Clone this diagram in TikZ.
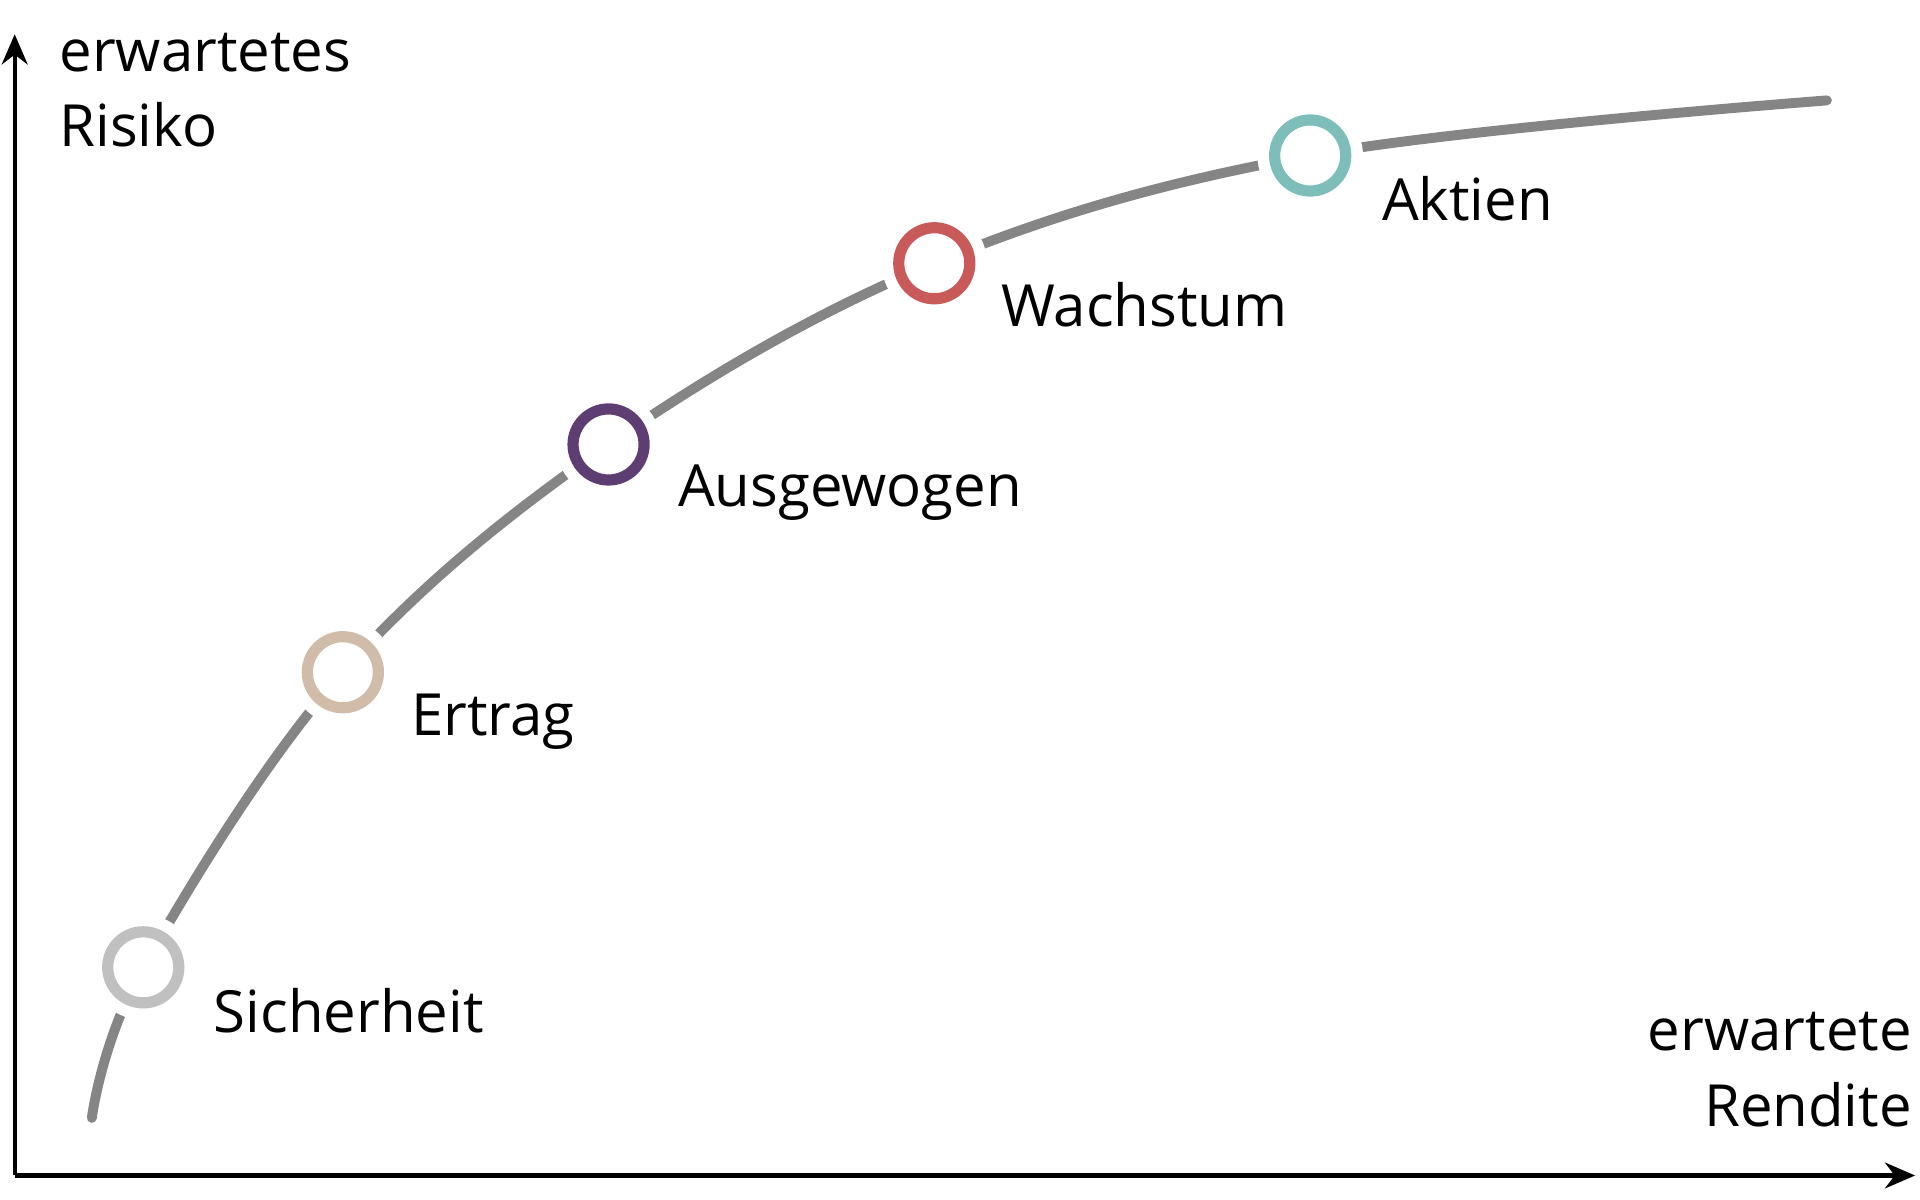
\documentclass[tikz,border=0pt]{standalone}
\usepackage{fontspec}
\setmainfont{Open Sans}
\usetikzlibrary{arrows.meta}
\definecolor{curve}{HTML}{858585}
\definecolor{cS}{HTML}{C0C0C0}
\definecolor{cE}{HTML}{D0BCA8}
\definecolor{cA}{HTML}{5E3D73}
\definecolor{cW}{HTML}{C85A5A}
\definecolor{cK}{HTML}{7DBDBA}
\tikzset{
  lbl/.style={anchor=base west, inner sep=0pt, font=\fontsize{13.5}{17.6}\selectfont},
  pt/.style={circle, minimum size=0.58cm, inner sep=0pt, draw=#1, line width=2.6pt, fill=white,
    preaction={draw=white, line width=8pt}},
  axis/.style={line width=1pt, -{Stealth[length=7pt,width=6pt]}}
}
\begin{document}
\begin{tikzpicture}[x=0.01cm,y=-0.01cm]
\useasboundingbox (0,0) rectangle (1568,980);
\coordinate (o) at (12,960);
\coordinate (ytop) at (12,28);
\coordinate (xend) at (1564,960);
\draw[axis] (o) -- (ytop);
\draw[axis] (o) -- (xend);
\draw[curve, line width=2.3pt, line cap=round] plot[smooth, tension=0.6] coordinates
 {(75,913) (117,790) (280,549) (497,363) (763,215) (1070,127) (1492,82)};
\node[pt=cS] (s) at (117,790) {};
\node[pt=cE] (e) at (280,549) {};
\node[pt=cA] (a) at (497,363) {};
\node[pt=cW] (w) at (763,215) {};
\node[pt=cK] (k) at (1070,127) {};
\node[lbl] (ls) at (174,843) {Sicherheit};
\node[lbl] (le) at (335,601) {Ertrag};
\node[lbl] (la) at (553,414) {Ausgewogen};
\node[lbl] (lw) at (817,267) {Wachstum};
\node[lbl] (lk) at (1128,180) {Aktien};
\node[lbl, align=left, anchor=north west] (ly) at (48,26) {erwartetes\\Risiko};
\node[lbl, align=right, anchor=north east] (lx) at (1562,826) {erwartete\\Rendite};
\end{tikzpicture}
\end{document}
